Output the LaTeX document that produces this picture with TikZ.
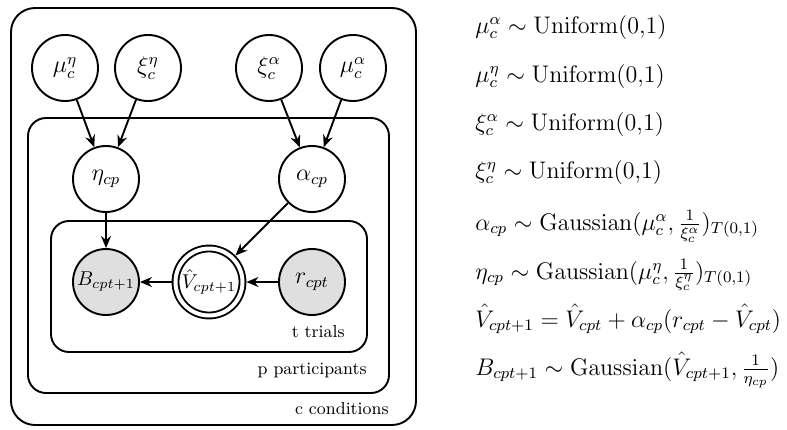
\documentclass[tikz,border=0pt]{standalone}
\usetikzlibrary{arrows.meta}
\begin{document}
\begin{tikzpicture}[x=0.5pt,y=-0.5pt,
  every node/.style={inner sep=0pt},
  latent/.style={circle,draw,line width=0.95pt,minimum size=33pt,fill=white,font=\fontsize{12}{14}\selectfont},
  obs/.style={latent,fill=gray!25},
  detnode/.style={circle,draw,line width=0.95pt,double,double distance=2pt,minimum size=33.5pt,fill=white,font=\fontsize{10.3}{12}\selectfont},
  plate/.style={draw,line width=0.95pt,rounded corners=9pt},
  platelabel/.style={anchor=base east,font=\fontsize{8.7}{10}\selectfont},
  edge/.style={line width=0.95pt,-{Stealth[length=6pt,width=5pt]}},
  eq/.style={anchor=base west,font=\fontsize{11.5}{14}\selectfont}]
\useasboundingbox (0,0) rectangle (787,429);
\fill[white] (0,0) rectangle (787,429);

% plates: conditions, participants, trials
\draw[plate,rounded corners=12pt] (11,8) rectangle (416,425);
\draw[plate] (28,118) rectangle (389,393);
\draw[plate] (51,221) rectangle (367,352);
\node[platelabel] (tlab) at (345,337) {t trials};
\node[platelabel] (plab) at (367,374) {p participants};
\node[platelabel] (clab) at (389,414) {c conditions};

% group-level parameters
\node[latent] (muEta) at (65,68) {$\mu_c^\eta$};
\node[latent] (xiEta) at (148,68) {$\xi_c^\eta$};
\node[latent] (xiAlpha) at (269,68) {$\xi_c^\alpha$};
\node[latent] (muAlpha) at (353,68) {$\mu_c^\alpha$};

% participant-level parameters
\node[latent] (eta) at (106,179) {$\eta_{cp}$};
\node[latent] (alpha) at (312,179) {$\alpha_{cp}$};

% trial-level variables
\node[obs,font=\fontsize{10.3}{12}\selectfont] (B) at (106,282) {$B_{cpt+1}$};
\node[detnode] (V) at (209,282) {$\hat{V}_{cpt+1}$};
\node[obs] (r) at (312,282) {$r_{cpt}$};

\draw[edge] (muEta) -- (eta);
\draw[edge] (xiEta) -- (eta);
\draw[edge] (xiAlpha) -- (alpha);
\draw[edge] (muAlpha) -- (alpha);
\draw[edge] (eta) -- (B);
\draw[edge,shorten >=1.5pt] (alpha) -- (V);
\draw[edge,shorten >=1.5pt] (r) -- (V);
\draw[edge,shorten <=1.5pt] (V) -- (B);

% model equations
\node[eq] (e1) at (475,33) {$\mu_c^\alpha \sim \mathrm{Uniform}(0{,}1)$};
\node[eq] (e2) at (475,82) {$\mu_c^\eta \sim \mathrm{Uniform}(0{,}1)$};
\node[eq] (e3) at (475,130) {$\xi_c^\alpha \sim \mathrm{Uniform}(0{,}1)$};
\node[eq] (e4) at (475,178) {$\xi_c^\eta \sim \mathrm{Uniform}(0{,}1)$};
\node[eq] (e5) at (475,230) {$\alpha_{cp} \sim \mathrm{Gaussian}(\mu_c^\alpha, \frac{1}{\xi_c^\alpha})_{T(0{,}1)}$};
\node[eq] (e6) at (475,279) {$\eta_{cp} \sim \mathrm{Gaussian}(\mu_c^\eta, \frac{1}{\xi_c^\eta})_{T(0{,}1)}$};
\node[eq] (e7) at (475,327) {$\hat{V}_{cpt+1} = \hat{V}_{cpt} + \alpha_{cp}(r_{cpt} - \hat{V}_{cpt})$};
\node[eq] (e8) at (475,375) {$B_{cpt+1} \sim \mathrm{Gaussian}(\hat{V}_{cpt+1}, \frac{1}{\eta_{cp}})$};
\end{tikzpicture}
\end{document}
